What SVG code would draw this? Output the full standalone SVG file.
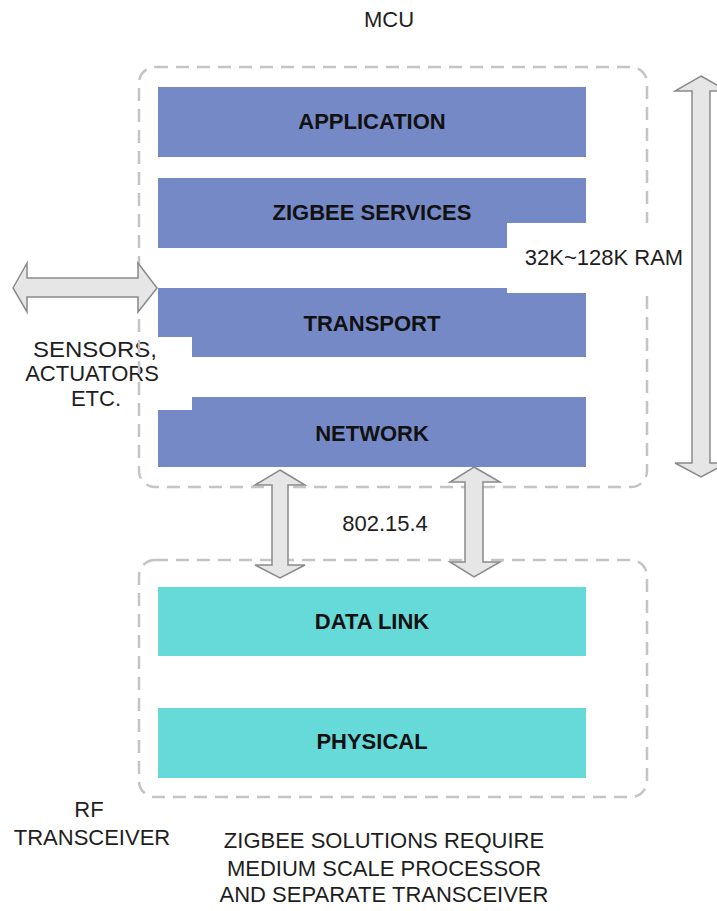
<svg xmlns="http://www.w3.org/2000/svg" width="717" height="911" viewBox="0 0 717 911">
<style>
text{font-family:"Liberation Sans",Arial,sans-serif;font-size:22px;fill:#1e1e1e;}
.lbl{font-weight:bold;text-anchor:middle;fill:#111;}
.mid{text-anchor:middle;}
.blue{fill:#7489c6;}
.teal{fill:#66d9d9;}
.box{fill:none;stroke:#c4c4c4;stroke-width:2.5;stroke-dasharray:13 8;}
.arr{fill:#e6e6e6;stroke:#8a8a8a;stroke-width:1.5;}
.wb{fill:#fff;}
</style>
<rect width="717" height="911" fill="#fff"/>
<g id="application"><rect class="blue" x="158" y="87" width="428" height="70"/><text class="lbl" x="372" y="129">APPLICATION</text></g>
<g id="zigbee-services"><rect class="blue" x="158" y="178" width="428" height="70"/><text class="lbl" x="372" y="220">ZIGBEE SERVICES</text></g>
<g id="transport"><rect class="blue" x="158" y="288" width="428" height="69"/><text class="lbl" x="372" y="331">TRANSPORT</text></g>
<g id="network"><rect class="blue" x="158" y="397" width="428" height="70"/><text class="lbl" x="372" y="441">NETWORK</text></g>
<g id="data-link"><rect class="teal" x="158" y="587" width="428" height="69"/><text class="lbl" x="372" y="629">DATA LINK</text></g>
<g id="physical"><rect class="teal" x="158" y="708" width="428" height="70"/><text class="lbl" x="372" y="749">PHYSICAL</text></g>
<g id="sensors"><rect class="wb" x="0" y="337" width="192" height="73"/><text class="mid" x="95" y="357" textLength="124" lengthAdjust="spacingAndGlyphs">SENSORS,</text><text class="mid" x="92" y="381">ACTUATORS</text><text class="mid" x="96" y="406">ETC.</text></g>
<g id="mcu"><rect class="box" x="139" y="67" width="508" height="420" rx="16"/><text class="mid" x="389" y="27">MCU</text></g>
<g id="rf-transceiver"><rect class="box" x="139" y="560" width="508" height="237" rx="16"/><text class="mid" x="89" y="817">RF</text><text class="mid" x="92" y="845">TRANSCEIVER</text></g>
<g id="ram"><rect class="wb" x="507" y="223" width="186" height="70"/><text class="mid" x="604" y="265">32K~128K RAM</text></g>
<g id="connectors">
<path class="arr" d="M13,288 L27,263 L27,278 L138,278 L138,263 L157,288 L138,312 L138,297 L27,297 L27,312 Z"/>
<path class="arr" d="M701,76 L727,91 L710,91 L710,463 L727,463 L701,477 L675,463 L692,463 L692,91 L675,91 Z"/>
<path class="arr" d="M280,470 L305,485 L288,485 L288,565 L305,565 L280,578 L255,565 L272,565 L272,485 L255,485 Z"/>
<path class="arr" d="M474,467 L500,482 L483,482 L483,562 L500,562 L474,577 L450,562 L465,562 L465,482 L450,482 Z"/>
</g>
<g id="labels">
<text class="mid" x="385" y="531">802.15.4</text>
<text class="mid" x="384" y="848">ZIGBEE SOLUTIONS REQUIRE</text>
<text class="mid" x="384" y="876">MEDIUM SCALE PROCESSOR</text>
<text class="mid" x="384" y="902">AND SEPARATE TRANSCEIVER</text>
</g>
</svg>
